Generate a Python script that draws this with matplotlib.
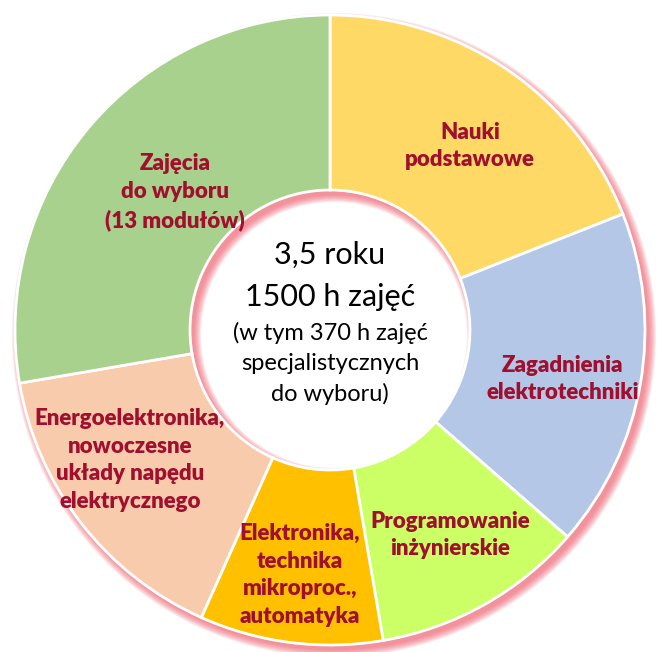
import matplotlib.pyplot as plt
from matplotlib.patches import Wedge

# segments, clockwise from 12 o'clock (share of the ring, %)
labels = [
    "Nauki\npodstawowe",
    "Zagadnienia\nelektrotechniki",
    "Programowanie\ninżynierskie",
    "Elektronika,\ntechnika\nmikroproc.,\nautomatyka",
    "Energoelektronika,\nnowoczesne\nukłady napędu\nelektrycznego",
    "Zajęcia\ndo wyboru\n(13 modułów)",
]
shares = [19.0, 17.4, 10.9, 9.4, 15.6, 27.7]
colors = ["#FFD966", "#B4C7E7", "#CCFF66", "#FFC000", "#F8CBAD", "#A9D18E"]

center_lines = ["3,5 roku", "1500 h zajęć", "(w tym 370 h zajęć",
                "specjalistycznych", "do wyboru)"]

# label anchor points in pixels of the 657x652 picture
label_px = [(470, 146), (563, 379), (450, 535), (300, 575), (130, 460), (175, 192)]

W, H = 657, 652
CX, CY = 330, 330
R_OUT, R_IN = 315, 140
TXT = "#A0102E"

fig = plt.figure(figsize=(W / 100, H / 100), dpi=100)
ax = fig.add_axes([0, 0, 1, 1])

# soft pink shadow, offset to lower right
for i in range(8):
    ax.add_patch(Wedge((4, -5), R_OUT + i * 1.0, 0, 360,
                       width=R_OUT - R_IN + i * 2.0,
                       color="#EE6070", alpha=0.13, lw=0, zorder=1))

ax.pie(shares, colors=colors, radius=R_OUT, startangle=90, counterclock=False,
       center=(0, 0), frame=True,
       wedgeprops=dict(width=R_OUT - R_IN, edgecolor="white", linewidth=2))
ax.set_xlim(-CX, W - CX)
ax.set_ylim(CY - H, CY)
ax.set_aspect("equal")
ax.axis("off")

for txt, (px, py) in zip(labels, label_px):
    ax.text(px - CX, CY - py, txt, ha="center", va="center", color=TXT,
            fontsize=16, fontweight="heavy", family="Lato", linespacing=1.4,
            zorder=5)

# centre text
ax.text(0, CY - 255, center_lines[0], ha="center", va="center",
        fontsize=22, family="Lato", zorder=5)
ax.text(0, CY - 297, center_lines[1], ha="center", va="center",
        fontsize=22, family="Lato", zorder=5)
for txt, py in zip(center_lines[2:], [333, 364, 394]):
    ax.text(0, CY - py, txt, ha="center", va="center",
            fontsize=17, family="Lato", zorder=5)

fig.savefig("out.png", dpi=100)
